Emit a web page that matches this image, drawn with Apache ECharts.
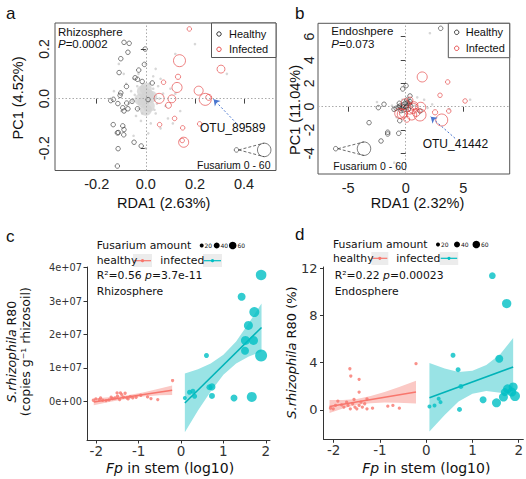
<!DOCTYPE html>
<html>
<head>
<meta charset="utf-8">
<script src="https://cdn.jsdelivr.net/npm/echarts@6/dist/echarts.min.js"></script>
<style>
html,body{margin:0;padding:0;background:#fff}
#main{width:526px;height:479px}
</style>
</head>
<body>
<div id="main"></div>
<script>
// ---- panel a : rhizosphere RDA ----
var grayA = [[-0.06,0.03],[0.05,0.05],[-0.04,-0.07],[0.04,-0.06],[0.07,0.02],[-0.07,-0.02],[0.03,0.09],[-0.03,0.1],
  [0.08,-0.03],[-0.08,0.06],[0.02,-0.1],[-0.02,-0.09],[0.06,0.08],[-0.05,0.08],[0.1,0.04],[-0.1,-0.05],[0.09,-0.08],
  [-0.09,0.1],[0.12,0.02],[0.0,0.14],[0.01,-0.14],[0.04,0.12],[-0.13,0.03],[0.14,-0.05],[0.2,0.22],[0.33,0.1],
  [-0.05,-0.15],[0.06,-0.12],[0.11,-0.1],[-0.11,0.14],[0.03,0.04],[-0.03,-0.04],[0.045,-0.02],[-0.045,0.015],
  [0.015,0.06],[-0.015,-0.06],[0.035,-0.045],[-0.035,0.05],[0.055,0.0],[-0.055,-0.01],[0.0,-0.2],[0.12,0.18]];
var grayCoreA = [[0,0],[0.008,0.015],[-0.01,-0.014],[0.012,-0.03],[-0.012,0.03],[0.022,0.008],[-0.022,-0.004],[0.0,0.04],[0.0,-0.045]];
var healthyA = [[-0.089,0.227],[-0.068,0.223],[-0.073,0.187],[-0.003,0.2],[-0.102,0.161],[-0.006,0.138],[-0.029,0.115],
  [-0.109,0.105],[-0.044,0.084],[-0.034,0.078],[-0.015,0.069],[0.026,0.063],[-0.102,0.023],[-0.105,0.013],[-0.079,0.049],
  [-0.143,-0.008],[-0.132,-0.003],[-0.078,-0.018],[-0.056,-0.011],[-0.094,-0.037],[-0.073,-0.041],[-0.089,-0.05],
  [-0.034,-0.041],[0.009,-0.004],[-0.133,-0.105],[-0.09,-0.146],[-0.094,-0.11],[-0.089,-0.125],[-0.112,-0.137],
  [-0.048,-0.176],[-0.019,-0.191],[-0.113,-0.202],[-0.116,-0.272],[-0.114,-0.02],[-0.116,-0.138]];
var infectedA = [[0.177,0.281,0],[0.137,0.153,50],[0.306,0.119,23],[0.072,0.066,0],[0.131,0.088,5],[0.127,0.045,37],
  [0.215,0.032,30],[0.054,0.001,37],[0.106,-0.001,23],[0.242,-0.003,50],[0.256,0.005,10],[0.092,-0.027,10],
  [0.117,-0.08,0],[0.219,-0.102,0],[0.056,-0.105,0],[0.15,-0.118,0],[0.154,-0.176,37],[0.148,-0.169,0]];
var keyA = [[0.369,-0.207,0],[0.482,-0.207,60]];
var arrowA = [[0.369,-0.1],[0.276,-0.003]];
var ticksAx = [-0.2,0,0.2,0.4], ticksAy = [-0.2,0,0.2];

// ---- panel b : endosphere RDA ----
var grayB = [[0.5,0.4],[1.6,0.6],[1.9,-0.1],[-1.2,0.1],[-0.8,-0.9],[2.3,0.2],[5.6,0.6],[-0.7,0.0],[0.8,0.1],
  [3.8,-0.2],[2.1,6.3],[-2.5,0.4],[-1.0,-4.8],[0.2,-0.3],[-0.3,0.6],[1.0,0.8]];
var healthyB = [[-0.5,0.06],[-0.35,-0.14],[-0.21,0.15],[-0.06,0.29],[0.14,0.34],[0.31,0.23],[0.43,0.06],[0.03,-0.05],
  [-0.21,-0.28],[-0.41,-0.34],[0.23,-0.22],[-0.64,-0.05],[-0.84,-0.14],[-1.02,-0.22],[-0.56,0.29],[0.09,0.57],
  [0.37,0.43],[-0.26,1.52],[0.03,1.8],[0.37,0.92],[-1.89,0.21],[-2.38,-0.08],[-3.19,-1.37],[-1.57,-2.19],
  [-1.57,-2.34],[-0.61,-2.28],[-2.15,-2.94],[-0.52,-1.2],[1.24,-0.37],[3.04,6.72],[-0.2,0.0],[0.1,0.1]];
var infectedB = [[1.43,2.55,37],[3.65,2.12,0],[2.98,0.98,0],[5.16,0.49,0],[3.74,-0.37,0],[2.55,-0.48,5],[3.13,-1.14,50],
  [-0.06,0.34,23],[0.37,0.57,10],[0.66,-0.14,37],[1.3,-0.05,37],[1.24,-0.71,50],[0.52,-0.71,37],[-0.21,-0.57,23],
  [0.09,-1.08,10],[-0.3,-0.63,37],[0.72,0.09,23],[-0.52,-0.57,37],[0.35,-0.3,23],[0.9,-0.5,23]];
var keyB = [[-6.09,-3.6,0],[-3.63,-3.6,60]];
var arrowB = [[4.29,-2.71],[2.17,-0.86]];
var ticksBx = [-5,0,5], ticksBy = [-4,-2,0,2,4,6];

// ---- panel c : rhizosphere copies (x1e7) vs Fp ----
var healthyC = [[-2.07,0.03],[-2.01,0.07],[-1.93,0.05],[-1.9,0.1],[-1.85,0.03],[-1.77,0.02],[-1.7,0.04],[-1.65,0.12],
  [-1.62,0.08],[-1.56,0.1],[-1.51,0.25],[-1.5,0.15],[-1.45,0.05],[-1.43,0.25],[-1.4,0.2],[-1.36,0.12],[-1.32,0.24],
  [-1.28,0.1],[-1.25,0.07],[-1.2,0.14],[-1.14,0.1],[-1.06,0.12],[-0.95,0.18],[-0.79,0.13],[-0.71,0.08],[-0.55,0.05],[-0.2,0.62]];
var infectedC = [[1.89,3.78,86],[1.43,3.13,60],[1.73,2.67,80],[1.59,2.27,70],[1.52,1.82,70],[1.71,1.82,70],[1.51,1.51,60],
  [1.89,1.37,100],[0.6,1.37,30],[0.73,0.43,50],[0.67,0.42,40],[0.73,0.16,40],[1.25,0.1,50],[1.67,0.13,80],
  [0.09,0.1,20],[0.2,0.27,30],[0.28,0.3,30],[0.32,0.15,30]];
var fitHealthyC = [[-2.06,-0.02],[-0.21,0.33]];
var fitInfectedC = [[0.09,-0.05],[1.9,2.21]];
var ribHealthyCx = [-2.06,-1.7,-1.3,-0.9,-0.5,-0.21];
var ribHealthyClo = [-0.12,-0.02,0.07,0.14,0.18,0.19];
var ribHealthyChi = [0.08,0.12,0.17,0.26,0.38,0.47];
var ribInfectedCx = [0.09,0.4,0.7,1.0,1.3,1.6,1.9];
var ribInfectedClo = [-0.93,-0.28,0.29,0.79,1.13,1.34,1.49];
var ribInfectedChi = [0.83,0.96,1.13,1.39,1.79,2.34,2.93];
var ticksCx = [-2,-1,0,1,2], ticksCy = [0,1,2,3,4];

// ---- panel d : endosphere relative abundance (%) vs Fp ----
var healthyD = [[-2.07,0.14],[-2.01,0.08],[-1.96,0.37],[-1.91,0.74],[-1.83,0.42],[-1.78,0.23],[-1.72,0.65],[-1.69,0.37],
  [-1.64,0.08],[-1.59,0.51],[-1.56,0.88],[-1.54,0.23],[-1.5,0.08],[-1.45,0.37],[-1.41,0.65],[-1.38,0.23],[-1.33,0.51],
  [-1.28,0.93],[-1.28,0.08],[-1.16,0.14],[-0.83,0.31],[-0.72,0.37],[-0.58,0.14],[-0.22,3.91],[-1.65,3.48],
  [-1.63,2.86],[-1.45,2.58],[-1.45,1.5]];
var infectedD = [[1.43,11.36,47],[1.74,9.0,73],[0.58,4.62,30],[1.58,4.33,60],[0.69,3.4,30],[0.75,1.98,30],[0.07,0.28,20],
  [0.18,0.37,20],[0.27,0.93,20],[0.31,0.65,20],[0.72,0.03,30],[1.23,0.85,50],[1.52,0.59,70],[1.67,1.08,70],
  [1.76,1.78,70],[1.88,1.93,70],[1.92,1.16,80],[1.7,1.5,60],[1.85,1.5,70]];
var fitHealthyD = [[-2.09,0.28],[-0.22,1.5]];
var fitInfectedD = [[0.07,1.02],[1.88,3.63]];
var ribHealthyDx = [-2.09,-1.8,-1.5,-1.2,-0.9,-0.6,-0.22];
var ribHealthyDlo = [-0.28,0.12,0.42,0.56,0.61,0.6,0.54];
var ribHealthyDhi = [0.84,0.82,0.92,1.16,1.51,1.9,2.46];
var ribInfectedDx = [0.07,0.4,0.7,1.0,1.3,1.6,1.88];
var ribInfectedDlo = [-1.84,-0.45,0.7,1.35,1.6,1.45,1.22];
var ribInfectedDhi = [3.97,3.5,3.2,3.3,3.8,4.7,6.09];
var ticksDx = [-2,-1,0,1,2], ticksDy = [0,4,8,12];

var RF = '"Liberation Sans", Arial, sans-serif';
var GF = '"DejaVu Sans", sans-serif';
var HCOL = '#F8766D', ICOL = '#00BFC4';

function rows(xs, lo, hi) {
  return xs.map(function (x, i) { return [x, lo[i], hi[i]]; });
}

function ribbon(idx, data, fill) {
  return {
    type: 'custom', xAxisIndex: idx, yAxisIndex: idx, data: data, silent: true, z: 1,
    encode: {x: 0, y: [1, 2]},
    renderItem: function (params, api) {
      if (params.dataIndex !== 0) return null;
      var top = data.map(function (r) { return api.coord([r[0], r[2]]); });
      var bot = data.map(function (r) { return api.coord([r[0], r[1]]); }).reverse();
      return {type: 'polygon', shape: {points: top.concat(bot)}, style: {fill: fill}};
    }
  };
}

function rAxisX(idx, min, max, ticks, fmt) {
  return {
    type: 'value', gridIndex: idx, min: min, max: max,
    axisLine: {show: false}, splitLine: {show: false},
    axisTick: {show: true, length: 5, lineStyle: {color: '#444'}, customValues: ticks},
    axisLabel: {customValues: ticks, formatter: fmt, margin: 6, color: '#222', fontFamily: RF, fontSize: 14.5}
  };
}
function rAxisY(idx, min, max, ticks, fmt, margin) {
  return {
    type: 'value', gridIndex: idx, min: min, max: max,
    axisLine: {show: false}, splitLine: {show: false},
    axisTick: {show: true, length: 5, lineStyle: {color: '#444'}, customValues: ticks},
    axisLabel: {customValues: ticks, formatter: fmt, rotate: 90, margin: margin, color: '#222', fontFamily: RF, fontSize: 14}
  };
}
function gAxis(idx, min, max, ticks, fmt, size, margin) {
  return {
    type: 'value', gridIndex: idx, min: min, max: max,
    axisLine: {show: true, onZero: false, lineStyle: {color: '#333', width: 1}}, splitLine: {show: false},
    axisTick: {show: true, length: 3.5, lineStyle: {color: '#333'}, customValues: ticks},
    axisLabel: {customValues: ticks, formatter: fmt, margin: margin, color: '#333', fontFamily: GF, fontSize: size}
  };
}

var f1 = function (v) { return v.toFixed(1); };
var f0 = function (v) { return String(v); };
var fe = function (v) { return v === 0 ? '0e+00' : v + 'e+07'; };

var openR = function (v) { return 4.5 + v[2] * 0.15; };
var dotG = function (v) { return 2 + v[2] * 0.1; };

function zeroLines() {
  return {silent: true, symbol: 'none', label: {show: false}, animation: false,
    lineStyle: {type: [1.5, 2], color: '#aaa', width: 1}, data: [{xAxis: 0}, {yAxis: 0}]};
}
function arrowLine(a) {
  return {silent: true, label: {show: false}, animation: false, symbol: ['none', 'arrow'], symbolSize: 6,
    lineStyle: {type: [2, 2], color: '#4a76cf', width: 1},
    data: [[{coord: a[0]}, {coord: a[1]}]]};
}
function keyLines(k, rUnits) {
  return {silent: true, label: {show: false}, animation: false, symbol: 'none',
    lineStyle: {type: [3, 2], color: '#444', width: 0.8},
    data: [[{coord: [k[0][0] + rUnits[0], k[0][1]]}, {coord: [k[1][0], k[1][1] + rUnits[1]]}],
           [{coord: [k[0][0] + rUnits[0], k[0][1]]}, {coord: [k[1][0], k[1][1] - rUnits[1]]}]]};
}

var chart = echarts.init(document.getElementById('main'), null, {renderer: 'svg'});

function txt(x, y, text, font, opts) {
  opts = opts || {};
  return {
    type: 'text', x: x, y: y, rotation: opts.rot || 0, z: 100,
    style: {text: text, font: font, fill: opts.fill || '#111',
      align: opts.align || 'left', textAlign: opts.align || 'left',
      verticalAlign: 'middle', textVerticalAlign: 'middle',
      rich: opts.rich, lineHeight: opts.lh}
  };
}
function it(font) { return {font: 'italic ' + font}; }
function nf(font) { return {font: font}; }

var fA = '11.5px ' + RF, fT = '14.5px ' + RF, fG = '10.8px ' + GF;

var graphics = [
  txt(6, 13, 'a', '17px ' + RF), txt(295, 13, 'b', '17px ' + RF),
  txt(6, 236, 'c', '17px ' + RF), txt(295, 234, 'd', '17px ' + RF),
  // panel a texts
  txt(58, 31.7, 'Rhizosphere', fA),
  txt(58, 43.5, '{i|P}{n|=0.0002}', fA, {rich: {i: it(fA), n: nf(fA)}}),
  {type: 'rect', shape: {x: 211.5, y: 23, width: 64.5, height: 34.5}, style: {fill: '#fff', stroke: '#555', lineWidth: 1}, z: 90},
  {type: 'circle', shape: {cx: 219, cy: 34, r: 2.2}, style: {fill: 'none', stroke: '#222', lineWidth: 0.9}, z: 95},
  {type: 'circle', shape: {cx: 219, cy: 49.3, r: 2.2}, style: {fill: 'none', stroke: '#e23b3b', lineWidth: 0.9}, z: 95},
  txt(229, 34, 'Healthy', '11px ' + RF), txt(229, 49.3, 'Infected', '11px ' + RF),
  txt(197, 165, 'Fusarium 0 - 60', '10.5px ' + RF),
  txt(200, 128.3, 'OTU_89589', '12px ' + RF),
  txt(163.7, 202.7, 'RDA1 (2.63%)', fT, {align: 'center'}),
  txt(17.5, 98, 'PC1 (4.52%)', fT, {align: 'center', rot: Math.PI / 2}),
  // panel b texts
  txt(331.3, 30.5, 'Endoshpere', fA),
  txt(331.3, 43.5, '{i|P}{n|=0.073}', fA, {rich: {i: it(fA), n: nf(fA)}}),
  {type: 'rect', shape: {x: 448.3, y: 23.3, width: 61.4, height: 34.4}, style: {fill: '#fff', stroke: '#555', lineWidth: 1}, z: 90},
  {type: 'circle', shape: {cx: 456.7, cy: 32.3, r: 2.2}, style: {fill: 'none', stroke: '#222', lineWidth: 0.9}, z: 95},
  {type: 'circle', shape: {cx: 456.7, cy: 48.3, r: 2.2}, style: {fill: 'none', stroke: '#e23b3b', lineWidth: 0.9}, z: 95},
  txt(465.7, 32.3, 'Healthy', '11px ' + RF), txt(465.7, 48.3, 'Infected', '11px ' + RF),
  txt(333.3, 165.7, 'Fusarium 0 - 60', '10.5px ' + RF),
  txt(422.7, 144, 'OTU_41442', '12px ' + RF),
  txt(417.5, 202.7, 'RDA1 (2.32%)', fT, {align: 'center'}),
  txt(294.5, 110, 'PC1 (11.04%)', fT, {align: 'center', rot: Math.PI / 2}),
  // panel c texts
  txt(96.7, 245, 'Fusarium amount', fG),
  {type: 'circle', shape: {cx: 201.7, cy: 245.5, r: 2}, style: {fill: '#000'}, z: 95},
  txt(204.5, 245.5, '20', '6px ' + GF),
  {type: 'circle', shape: {cx: 216.7, cy: 245.5, r: 3}, style: {fill: '#000'}, z: 95},
  txt(220.5, 245.5, '40', '6px ' + GF),
  {type: 'circle', shape: {cx: 232.7, cy: 245.5, r: 3.8}, style: {fill: '#000'}, z: 95},
  txt(237.5, 245.5, '60', '6px ' + GF),
  txt(96.7, 260.7, 'healthy', fG),
  {type: 'rect', shape: {x: 133, y: 254, width: 19, height: 13}, style: {fill: '#ececec'}, z: 90},
  {type: 'line', shape: {x1: 134, y1: 260.7, x2: 151, y2: 260.7}, style: {stroke: HCOL, lineWidth: 1.2}, z: 95},
  {type: 'circle', shape: {cx: 142.5, cy: 260.7, r: 1.6}, style: {fill: HCOL}, z: 96},
  txt(160.3, 260.7, 'infected', fG),
  {type: 'rect', shape: {x: 203, y: 254, width: 19, height: 13}, style: {fill: '#ececec'}, z: 90},
  {type: 'line', shape: {x1: 204, y1: 260.7, x2: 221, y2: 260.7}, style: {stroke: ICOL, lineWidth: 1.2}, z: 95},
  {type: 'circle', shape: {cx: 212.5, cy: 260.7, r: 1.6}, style: {fill: ICOL}, z: 96},
  txt(96.7, 275, 'R\u00b2=0.56 {i|p}{n|=3.7e-11}', fG, {rich: {i: it(fG), n: nf(fG)}}),
  txt(96.7, 291, 'Rhizosphere', fG),
  txt(170, 468.3, '{i|Fp}{n| in stem (log10)}', '14px ' + GF, {align: 'center', rich: {i: it('14px ' + GF), n: nf('14px ' + GF)}}),
  txt(18.3, 351.7, '{i|S.rhizophila}{n| R80}\n{n|(copies g\u207b\u00b9 rhizosoil)}', '12.5px ' + GF,
      {align: 'center', rot: Math.PI / 2, lh: 13.5, rich: {i: {font: 'italic 12.5px ' + GF, lineHeight: 13.5}, n: {font: '12.5px ' + GF, lineHeight: 13.5}}}),
  // panel d texts
  txt(333, 244, 'Fusarium amount', fG),
  {type: 'circle', shape: {cx: 438, cy: 244.5, r: 2}, style: {fill: '#000'}, z: 95},
  txt(441, 244.5, '20', '6px ' + GF),
  {type: 'circle', shape: {cx: 457, cy: 244.5, r: 3}, style: {fill: '#000'}, z: 95},
  txt(461, 244.5, '40', '6px ' + GF),
  {type: 'circle', shape: {cx: 476.3, cy: 244.5, r: 3.8}, style: {fill: '#000'}, z: 95},
  txt(481, 244.5, '60', '6px ' + GF),
  txt(333, 258.3, 'healthy', fG),
  {type: 'rect', shape: {x: 371.3, y: 252, width: 17, height: 13}, style: {fill: '#ececec'}, z: 90},
  {type: 'line', shape: {x1: 372.3, y1: 258.3, x2: 387.3, y2: 258.3}, style: {stroke: HCOL, lineWidth: 1.2}, z: 95},
  {type: 'circle', shape: {cx: 379.8, cy: 258.3, r: 1.6}, style: {fill: HCOL}, z: 96},
  txt(396.3, 258.3, 'infected', fG),
  {type: 'rect', shape: {x: 439.7, y: 252, width: 18.5, height: 13}, style: {fill: '#ececec'}, z: 90},
  {type: 'line', shape: {x1: 440.7, y1: 258.3, x2: 457.2, y2: 258.3}, style: {stroke: ICOL, lineWidth: 1.2}, z: 95},
  {type: 'circle', shape: {cx: 449, cy: 258.3, r: 1.6}, style: {fill: ICOL}, z: 96},
  txt(334.7, 275, 'R\u00b2=0.22 {i|p}{n|=0.00023}', fG, {rich: {i: it(fG), n: nf(fG)}}),
  txt(334.7, 291, 'Endosphere', fG),
  txt(426.3, 468.3, '{i|Fp}{n| in stem (log10)}', '14px ' + GF, {align: 'center', rich: {i: it('14px ' + GF), n: nf('14px ' + GF)}}),
  txt(291.3, 352.5, '{i|S.rhizophila}{n| R80 (%)}', '13px ' + GF, {align: 'center', rot: Math.PI / 2, rich: {i: it('13px ' + GF), n: nf('13px ' + GF)}})
];

var option = {
  animation: false,
  grid: [
    {left: 55, top: 23, width: 221, height: 147.5, show: true, borderColor: '#555', borderWidth: 1},
    {left: 318, top: 23.3, width: 191.7, height: 150.7, show: true, borderColor: '#555', borderWidth: 1},
    {left: 87, top: 267, width: 183, height: 173},
    {left: 323.5, top: 267, width: 202.5, height: 172.3}
  ],
  xAxis: [
    rAxisX(0, -0.37, 0.53, ticksAx, f1),
    rAxisX(1, -7.63, 9.04, ticksBx, f0),
    gAxis(2, -2.22, 2.1, ticksCx, f0, 13.5, 4),
    gAxis(3, -2.22, 2.1, ticksDx, f0, 13.5, 4)
  ],
  yAxis: [
    rAxisY(0, -0.29, 0.305, ticksAy, f1, 4),
    rAxisY(1, -5.77, 7.15, ticksBy, f0, 2),
    gAxis(2, -1.16, 4.02, ticksCy, fe, 9.8, 5),
    gAxis(3, -2.5, 12.1, ticksDy, f0, 13, 6)
  ],
  graphic: graphics,
  series: [
    // a
    {type: 'scatter', xAxisIndex: 0, yAxisIndex: 0, data: grayCoreA, symbolSize: 12, itemStyle: {color: '#d3d3d3'}, silent: true, z: 2, markLine: zeroLines()},
    {type: 'scatter', xAxisIndex: 0, yAxisIndex: 0, data: grayA, symbolSize: 2.6, itemStyle: {color: '#cdcdcd'}, silent: true, z: 2},
    {type: 'scatter', xAxisIndex: 0, yAxisIndex: 0, data: healthyA, symbolSize: 4.5,
      itemStyle: {color: 'rgba(0,0,0,0)', borderColor: '#333', borderWidth: 0.8}, z: 3, markLine: arrowLine(arrowA)},
    {type: 'scatter', xAxisIndex: 0, yAxisIndex: 0, data: infectedA, symbolSize: openR,
      itemStyle: {color: 'rgba(0,0,0,0)', borderColor: '#e23b3b', borderWidth: 0.8}, z: 4},
    {type: 'scatter', xAxisIndex: 0, yAxisIndex: 0, data: keyA, symbolSize: openR,
      itemStyle: {color: 'rgba(0,0,0,0)', borderColor: '#333', borderWidth: 0.8}, z: 4,
      markLine: keyLines(keyA, [0.009, 0.0274])},
    // b
    {type: 'scatter', xAxisIndex: 1, yAxisIndex: 1, data: grayB, symbolSize: 2.6, itemStyle: {color: '#cdcdcd'}, silent: true, z: 2, markLine: zeroLines()},
    {type: 'scatter', xAxisIndex: 1, yAxisIndex: 1, data: healthyB, symbolSize: 4.5,
      itemStyle: {color: 'rgba(0,0,0,0)', borderColor: '#333', borderWidth: 0.8}, z: 3, markLine: arrowLine(arrowB)},
    {type: 'scatter', xAxisIndex: 1, yAxisIndex: 1, data: infectedB, symbolSize: openR,
      itemStyle: {color: 'rgba(0,0,0,0)', borderColor: '#e23b3b', borderWidth: 0.8}, z: 4},
    {type: 'scatter', xAxisIndex: 1, yAxisIndex: 1, data: keyB, symbolSize: openR,
      itemStyle: {color: 'rgba(0,0,0,0)', borderColor: '#333', borderWidth: 0.8}, z: 4,
      markLine: keyLines(keyB, [0.19, 0.58])},
    // c
    ribbon(2, rows(ribHealthyCx, ribHealthyClo, ribHealthyChi), '#fbc9c5'),
    ribbon(2, rows(ribInfectedCx, ribInfectedClo, ribInfectedChi), '#99e3e5'),
    {type: 'line', xAxisIndex: 2, yAxisIndex: 2, data: fitHealthyC, symbol: 'none', lineStyle: {color: HCOL, width: 1.5}, z: 3},
    {type: 'line', xAxisIndex: 2, yAxisIndex: 2, data: fitInfectedC, symbol: 'none', lineStyle: {color: '#00B3B8', width: 1.5}, z: 3},
    {type: 'scatter', xAxisIndex: 2, yAxisIndex: 2, data: healthyC, symbolSize: 3.3, itemStyle: {color: HCOL}, z: 4},
    {type: 'scatter', xAxisIndex: 2, yAxisIndex: 2, data: infectedC, symbolSize: dotG, itemStyle: {color: ICOL}, z: 4},
    // d
    ribbon(3, rows(ribHealthyDx, ribHealthyDlo, ribHealthyDhi), '#fbc9c5'),
    ribbon(3, rows(ribInfectedDx, ribInfectedDlo, ribInfectedDhi), '#99e3e5'),
    {type: 'line', xAxisIndex: 3, yAxisIndex: 3, data: fitHealthyD, symbol: 'none', lineStyle: {color: HCOL, width: 1.5}, z: 3},
    {type: 'line', xAxisIndex: 3, yAxisIndex: 3, data: fitInfectedD, symbol: 'none', lineStyle: {color: '#00B3B8', width: 1.5}, z: 3},
    {type: 'scatter', xAxisIndex: 3, yAxisIndex: 3, data: healthyD, symbolSize: 3.3, itemStyle: {color: HCOL}, z: 4},
    {type: 'scatter', xAxisIndex: 3, yAxisIndex: 3, data: infectedD, symbolSize: dotG, itemStyle: {color: ICOL}, z: 4}
  ]
};
chart.setOption(option);
</script>
</body>
</html>
